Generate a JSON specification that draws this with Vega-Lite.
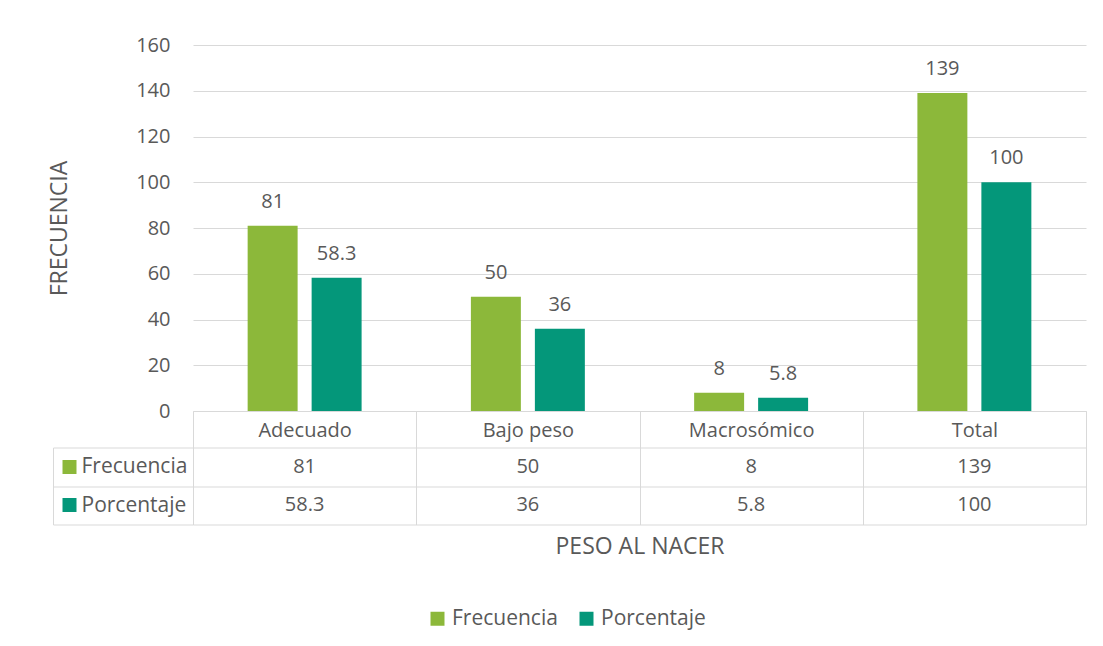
{
  "$schema": "https://vega.github.io/schema/vega-lite/v6.json",
  "background": "white",
  "padding": {"left": 48, "top": 35, "right": 14, "bottom": 80},
  "spacing": 36.5,
  "bounds": "flush",
  "config": {
    "font": "Open Sans",
    "view": {"stroke": null}
  },
  "datasets": {
    "tabla": [
      {"categoria": "Adecuado", "serie": "Frecuencia", "valor": 81},
      {"categoria": "Adecuado", "serie": "Porcentaje", "valor": 58.3},
      {"categoria": "Bajo peso", "serie": "Frecuencia", "valor": 50},
      {"categoria": "Bajo peso", "serie": "Porcentaje", "valor": 36},
      {"categoria": "Macrosómico", "serie": "Frecuencia", "valor": 8},
      {"categoria": "Macrosómico", "serie": "Porcentaje", "valor": 5.8},
      {"categoria": "Total", "serie": "Frecuencia", "valor": 139},
      {"categoria": "Total", "serie": "Porcentaje", "valor": 100}
    ]
  },
  "vconcat": [
    {
      "width": 893,
      "height": 366,
      "data": {"name": "tabla"},
      "encoding": {
        "x": {
          "field": "categoria", "type": "nominal",
          "sort": ["Adecuado", "Bajo peso", "Macrosómico", "Total"],
          "scale": {"paddingInner": 0, "paddingOuter": 0},
          "axis": {
            "title": null, "labelAngle": 0, "labelFontSize": 20, "labelColor": "#595959",
            "labelPadding": -27, "tickBand": "extent", "tickSize": 36.5, "tickColor": "#d9d9d9",
            "domainColor": "#d9d9d9", "grid": false
          }
        },
        "xOffset": {
          "field": "serie", "type": "nominal", "sort": ["Frecuencia", "Porcentaje"],
          "scale": {"paddingInner": 0.219, "paddingOuter": 0.854}
        },
        "y": {
          "field": "valor", "type": "quantitative",
          "scale": {"domain": [0, 160]},
          "axis": {
            "title": "FRECUENCIA", "values": [0, 20, 40, 60, 80, 100, 120, 140, 160],
            "grid": true, "gridColor": "#d9d9d9", "domain": false, "ticks": false,
            "labelPadding": 23, "labelFontSize": 20, "labelColor": "#595959",
            "titleFontSize": 23, "titleFontWeight": "normal", "titleColor": "#595959",
            "titlePadding": 64
          }
        }
      },
      "layer": [
        {
          "mark": {"type": "bar"},
          "encoding": {
            "color": {
              "field": "serie", "type": "nominal",
              "scale": {"domain": ["Frecuencia", "Porcentaje"], "range": ["#8CB83A", "#04977A"]},
              "legend": {
                "orient": "none", "legendX": 234, "legendY": 563, "direction": "horizontal",
                "title": null, "symbolType": "square", "symbolSize": 196, "symbolStrokeWidth": 0,
                "labelFontSize": 21, "labelColor": "#595959", "labelOffset": 4, "columnPadding": 18,
                "labelLimit": 300
              }
            }
          }
        },
        {
          "mark": {"type": "text", "baseline": "bottom", "dy": -14, "fontSize": 20, "color": "#595959"},
          "encoding": {
            "text": {"field": "valor", "type": "quantitative", "format": "~g"}
          }
        }
      ]
    },
    {
      "width": 893,
      "height": 77,
      "data": {"name": "tabla"},
      "encoding": {
        "x": {
          "field": "categoria", "type": "nominal",
          "sort": ["Adecuado", "Bajo peso", "Macrosómico", "Total"],
          "scale": {"paddingInner": 0, "paddingOuter": 0},
          "axis": {
            "title": "PESO AL NACER", "labels": false, "ticks": false, "domain": false,
            "grid": true, "gridColor": "#d9d9d9", "tickBand": "extent",
            "titleFontSize": 23, "titleFontWeight": "normal", "titleColor": "#595959",
            "titlePadding": 11
          }
        }
      },
      "layer": [
        {
          "mark": {"type": "text", "fontSize": 20, "color": "#595959"},
          "encoding": {
            "y": {
              "field": "serie", "type": "nominal",
              "scale": {"domain": ["Frecuencia", "Porcentaje"], "paddingInner": 0, "paddingOuter": 0},
              "axis": {
                "title": null, "orient": "left", "domain": false, "ticks": true,
                "tickBand": "extent", "tickSize": 140, "tickColor": "#d9d9d9",
                "grid": true, "gridColor": "#d9d9d9",
                "labelAlign": "left", "labelBaseline": "middle", "labelPadding": -28,
                "labelFontSize": 21, "labelColor": "#595959", "labelLimit": 300
              }
            },
            "text": {"field": "valor", "type": "quantitative", "format": "~g"}
          }
        },
        {
          "mark": {"type": "text", "text": ""},
          "encoding": {
            "y": {
              "field": "serie", "type": "nominal",
              "scale": {"domain": ["Frecuencia", "Porcentaje"], "paddingInner": 0, "paddingOuter": 0},
              "axis": {
                "title": null, "orient": "left", "offset": 117, "domain": false, "labels": false,
                "grid": false, "ticks": true, "tickSize": 14, "tickWidth": 14,
                "tickColor": {"condition": {"test": "datum.value === 'Frecuencia'", "value": "#8CB83A"}, "value": "#04977A"}
              }
            }
          }
        },
        {
          "mark": {"type": "text", "text": ""},
          "encoding": {
            "y": {
              "field": "serie", "type": "nominal",
              "scale": {"domain": ["Frecuencia", "Porcentaje"], "paddingInner": 0, "paddingOuter": 0},
              "axis": {
                "title": null, "orient": "left", "offset": 140, "domain": true, "domainColor": "#d9d9d9",
                "labels": false, "grid": false, "ticks": false
              }
            }
          }
        }
      ],
      "resolve": {"axis": {"y": "independent"}}
    }
  ]
}
